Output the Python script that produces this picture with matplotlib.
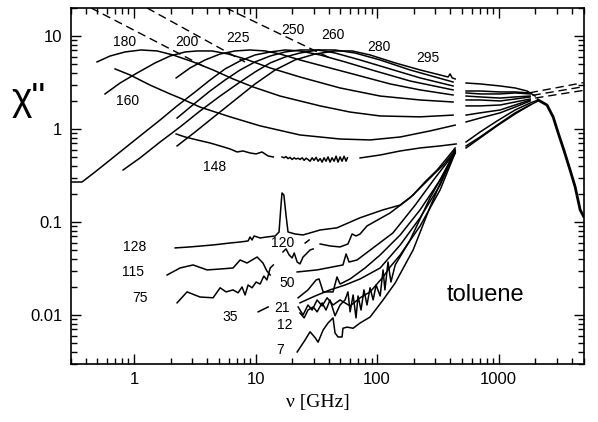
import numpy as np
import matplotlib
matplotlib.use("Agg")
import matplotlib.pyplot as plt
from matplotlib.ticker import LogLocator, NullFormatter

nan = np.nan

# --- alpha-relaxation spectra (nu in GHz, chi'') -------------------------
nu_295 = [2.26, 3.18, 4.64, 6.78, 9.91, 14.5, 21.1, 30.9, 45.1, 62.3, 87.6, 141, 226, 330, 384, 399, 415, 439,
          nan, 540, 704, 1029, 1367, 1717, 1997]
chi_295 = [0.657, 0.928, 1.38, 2.05, 3.05, 4.31, 5.52, 6.40, 6.90, 6.90, 6.25, 5.13, 4.31, 3.81, 3.62, 3.91, 3.54, 3.45,
           nan, 3.12, 3.05, 2.90, 2.76, 2.56, 2.26]

nu_280 = [0.812, 1.12, 1.64, 2.39, 3.49, 5.11, 7.46, 9.91, 13.2, 17.5, 23.2, 32.7, 45.1, 65.9, 106, 187, 422,
          nan, 540, 704, 1029, 1367, 1817]
chi_280 = [0.362, 0.488, 0.725, 1.05, 1.56, 2.26, 3.20, 4.10, 5.13, 5.94, 6.56, 7.07, 7.07, 6.56, 5.52, 4.31, 3.20,
           nan, 2.56, 2.56, 2.50, 2.50, 2.44]

nu_260 = [2.26, 3.18, 4.22, 5.61, 7.46, 9.91, 13.2, 17.5, 23.2, 32.7, 45.1, 72.5, 128, 226, 422,
          nan, 540, 704, 1029, 1367, 1817]
chi_260 = [1.31, 1.90, 2.56, 3.36, 4.31, 5.26, 6.09, 6.73, 7.07, 7.07, 6.56, 5.52, 4.42, 3.54, 2.90,
           nan, 2.44, 2.38, 2.38, 2.44, 2.38]

nu_250 = [0.303, 0.373, 0.478, 0.635, 0.843, 1.12, 1.64, 2.26, 3.18, 4.22, 5.61, 7.46, 9.91, 13.2, 17.5, 23.2,
          34.0, 54.5, 96.3, 187, 422, nan, 540, 704, 1029, 1367, 1817]
chi_250 = [0.269, 0.269, 0.345, 0.464, 0.625, 0.841, 1.25, 1.77, 2.50, 3.36, 4.42, 5.39, 6.25, 6.73, 7.07, 6.90,
           6.25, 5.26, 4.21, 3.28, 2.63, nan, 2.26, 2.21, 2.15, 2.21, 2.26]

nu_225 = [2.22, 2.89, 3.84, 5.11, 6.78, 9.01, 12.0, 15.9, 23.2, 41.0, 72.5, 128, 226, 422,
          nan, 540, 704, 1029, 1367, 1817]
chi_225 = [3.54, 4.53, 5.52, 6.40, 6.90, 7.07, 6.90, 6.40, 5.52, 4.53, 3.72, 3.05, 2.63, 2.32,
           nan, 2.05, 2.05, 2.00, 2.10, 2.21]

nu_200 = [0.577, 0.767, 1.06, 1.49, 1.98, 2.63, 3.30, 4.39, 5.94, 8.20, 13.2, 23.2, 49.6, 106, 226, 422,
          nan, 540, 704, 1029, 1367, 1817]
chi_200 = [2.38, 3.12, 4.00, 5.13, 6.09, 6.73, 6.90, 6.90, 6.40, 5.66, 4.53, 3.62, 2.76, 2.26, 2.05, 1.95,
           nan, 1.77, 1.77, 1.81, 1.95, 2.10]

nu_180 = [0.496, 0.635, 0.843, 1.14, 1.55, 2.09, 3.06, 4.47, 6.53, 9.54, 15.9, 34.0, 60.0, 106, 226, 422,
          nan, 540, 704, 1029, 1367, 1817]
chi_180 = [5.26, 6.09, 6.73, 7.07, 6.90, 6.25, 5.26, 4.31, 3.45, 2.83, 2.26, 1.77, 1.52, 1.38, 1.35, 1.41,
           nan, 1.41, 1.49, 1.60, 1.81, 2.05]

nu_160 = [0.698, 0.927, 1.35, 1.98, 2.39, 3.49, 6.17, 10.9, 23.2, 49.6, 87.6, 155, 273, 439,
          nan, 540, 704, 1029, 1367, 1817]
chi_160 = [4.42, 3.81, 2.97, 2.38, 2.15, 1.72, 1.35, 1.08, 0.862, 0.78, 0.762, 0.82, 0.953, 1.10,
           nan, 1.19, 1.31, 1.49, 1.72, 2.00]

nu_148 = [2.22, 2.63, 3.30, 4.22, 5.11, 6.17, 7.04, 7.89, 9.01, 10.1, 11.3, 12.7, 14.0, nan,
          16.5, 17.2, 17.8, 18.5, 19.2, 20.0, 20.8, 21.5, 22.4, 23.2, 24.2, 25.1, 26.1, 27.0, 28.1, 29.2,
          30.3, 31.5, 32.7, 34.0, 35.3, 36.6, 38.0, 39.5, 41.0, 42.6, 44.3, 46.0, 47.7, 49.6, 51.5, 53.5,
          55.6, 57.0, nan, 72.5, 106, 155, 226, 330, 447, nan, 540, 704, 972, 1367, 1817]
chi_148 = [0.884, 0.82, 0.762, 0.707, 0.657, 0.61, 0.566, 0.58, 0.552, 0.539, 0.566, 0.512, 0.50, nan,
           0.50, 0.49, 0.505, 0.48, 0.495, 0.47, 0.49, 0.475, 0.485, 0.47, 0.49, 0.46, 0.485, 0.47, 0.45, 0.49,
           0.46, 0.495, 0.45, 0.48, 0.44, 0.49, 0.45, 0.50, 0.44, 0.49, 0.45, 0.51, 0.44, 0.50, 0.45, 0.51,
           0.45, 0.49, nan, 0.488, 0.525, 0.58, 0.625, 0.657, 0.69, nan, 0.657, 0.82, 1.10, 1.49, 1.81]

# --- low-temperature spectra ---------------------------------------------
nu_128 = [2.18, 2.89, 4.47, 6.17, 7.46, 8.68, 9.01, 9.36, 9.72, 10.9, 12.4, 14.5, 15.6, 16.2, 16.5, 17.1,
          17.8, 18.5, 21.1, 24.6, 34.0, 46.8, 72.5, 112, 155, 198, 248, 312, 377, 439,
          nan, 540, 704, 972, 1367, 1817, 2114]
chi_128 = [0.0526, 0.0539, 0.0566, 0.0594, 0.0609, 0.0625, 0.0690, 0.0640, 0.0707, 0.0673, 0.0690, 0.0707,
           0.0780, 0.152, 0.205, 0.195, 0.119, 0.078, 0.0743, 0.0725, 0.0820, 0.0865, 0.111, 0.135, 0.152,
           0.195, 0.270, 0.362, 0.488, 0.625, nan, 0.725, 0.928, 1.22, 1.60, 1.90, 2.05]

nu_120 = [16.8, 17.8, 18.9, 20.0, 20.8, 22.0, 23.2, 24.6, 26.1, 28.1, 29.8, nan, 25.6, 27.6, nan,
          34.0, 41.0, 49.6, 57.6, 62.3, 67.1, 72.5, 82.6, 128, 187, 273, 363, 439]
chi_120 = [0.0476, 0.0513, 0.0442, 0.0410, 0.0464, 0.0371, 0.0354, 0.0420, 0.0453, 0.0500, 0.0513, nan,
           0.0594, 0.0640, nan, 0.0580, 0.0552, 0.0539, 0.0580, 0.0743, 0.0707, 0.0743, 0.0906, 0.125, 0.182,
           0.297, 0.430, 0.594]

nu_115 = [1.87, 2.39, 3.06, 3.99, 5.11, 6.53, 7.46, 8.51, 10.3, 11.5, 12.4, 13.2, nan,
          22.0, 32.1, 52.4, 55.6, 58.8, 68.4, 135, 206, 300, 439]
chi_115 = [0.0269, 0.0320, 0.0345, 0.0305, 0.0312, 0.0320, 0.0390, 0.0362, 0.0420, 0.0362, 0.0297, 0.0269, nan,
           0.0290, 0.0305, 0.0345, 0.0453, 0.0371, 0.0390, 0.0762, 0.152, 0.297, 0.566]

nu_75 = [2.26, 2.73, 3.49, 4.47, 5.11, 5.72, 6.53, 7.18, 7.74, 8.20, 8.68, 9.36, 10.1, 10.9, 11.7, 12.4,
         13.2, 14.0]
chi_75 = [0.0135, 0.0177, 0.0156, 0.0153, 0.0196, 0.0177, 0.0186, 0.0173, 0.0200, 0.0164, 0.0210, 0.0196,
          0.0226, 0.0215, 0.0262, 0.0238, 0.0320, 0.0345]

nu_50 = [22.4, 27.0, 31.5, 33.3, 36.0, 43.4, 46.8, 49.6, 60.0, 79.6, 106, 155, 226, 330, 439]
chi_50 = [0.0153, 0.0186, 0.0238, 0.0244, 0.0177, 0.0177, 0.0256, 0.0215, 0.0244, 0.0320, 0.0442, 0.0725,
          0.135, 0.283, 0.58]

nu_35 = [10.5, 12.7, nan, 23.2, 30.9, 41.0, 54.5, 72.5, 106, 155, 226, 330, 439]
chi_35 = [0.0108, 0.0122, nan, 0.0135, 0.0160, 0.0186, 0.0210, 0.0244, 0.0320, 0.0566, 0.111, 0.25, 0.566]

nu_21 = [22.4, 24.6, 27.0, 29.2, 32.1, 35.3, 38.8, 43.4, 49.6, 60.0, 72.5, 87.6, 112, 128, 155, 226, 330, 439]
chi_21 = [0.0122, 0.0100, 0.0128, 0.0113, 0.0145, 0.0125, 0.0153, 0.0128, 0.0145, 0.0125, 0.0153, 0.0177,
          0.0256, 0.0328, 0.0442, 0.0906, 0.221, 0.552]

nu_12 = [23.2, 25.1, 27.0, 29.8, 32.1, 35.3, 38.0, 41.0, 45.1, 49.6, 54.5, 57.6, 60.0, 63.5, 67.1, 69.7, 73.8,
         78.0, 82.6, 87.6, 92.8, 98.2, 106, 112, 116, 123, 130, 141, 187, 273, 439]
chi_12 = [0.0105, 0.0093, 0.0113, 0.0122, 0.0108, 0.0135, 0.0113, 0.0145, 0.0098, 0.0128, 0.0145, 0.0177,
          0.0108, 0.0164, 0.0093, 0.0160, 0.0113, 0.0186, 0.0128, 0.0196, 0.0145, 0.0210, 0.0160, 0.0305,
          0.0186, 0.0371, 0.0226, 0.0345, 0.0640, 0.182, 0.552]

nu_7 = [22.0, 25.6, 28.1, 30.9, 32.7, 36.0, 39.5, 43.4, 45.1, 47.7, 51.5, 52.4, 56.6, 63.5, 72.5, 87.6, 112,
        141, 198, 273, 363, 439, nan, 540, 704, 972, 1367, 1817, 2114]
chi_7 = [0.0040, 0.0054, 0.0066, 0.0057, 0.0051, 0.0069, 0.0082, 0.0093, 0.0064, 0.0058, 0.0058, 0.0072,
         0.0074, 0.0072, 0.0082, 0.0095, 0.0145, 0.0221, 0.050, 0.145, 0.345, 0.594, nan, 0.625, 0.80, 1.08,
         1.45, 1.81, 2.00]

# common microscopic peak / high-frequency tail
tail_nu = [2114, 2500, 2810, 3090, 3450, 3880, 4260, 4690, 5000]
tail_chi = [2.05, 1.81, 1.35, 0.91, 0.59, 0.36, 0.24, 0.135, 0.115]

# dashed power-law extrapolations
dash_nu = [[0.443, 3.84], [1.28, 8.2], [5.72, 41.0], [1800, 5000], [1900, 5000], [2000, 5000]]
dash_chi = [[20, 4.64], [20, 5.25], [20, 5.8], [2.45, 3.15], [2.3, 2.85], [2.15, 2.6]]

curves = [(nu_295, chi_295), (nu_280, chi_280), (nu_260, chi_260), (nu_250, chi_250),
          (nu_225, chi_225), (nu_200, chi_200), (nu_180, chi_180), (nu_160, chi_160),
          (nu_148, chi_148), (nu_128, chi_128), (nu_120, chi_120), (nu_115, chi_115),
          (nu_75, chi_75), (nu_50, chi_50), (nu_35, chi_35), (nu_21, chi_21),
          (nu_12, chi_12), (nu_7, chi_7)]

# temperature labels: (text, nu, chi)
labels = [("180", 0.843, 8.6), ("200", 2.73, 8.6), ("225", 7.18, 9.5), ("250", 20.4, 11.6),
          ("260", 43.4, 10.25), ("280", 104, 7.62), ("295", 263, 5.8), ("160", 0.89, 2.0),
          ("148", 4.64, 0.39), ("128", 1.02, 0.0539), ("115", 0.98, 0.029), ("75", 1.12, 0.0153),
          ("35", 6.17, 0.0095), ("120", 16.8, 0.0594), ("50", 18.2, 0.0221), ("21", 16.5, 0.0118),
          ("12", 17.5, 0.0078), ("7", 15.9, 0.0042)]

plt.rcParams["font.family"] = ["Liberation Sans", "DejaVu Sans"]

fig = plt.figure(figsize=(5.98, 4.22), dpi=100)
ax = fig.add_axes([0.1179, 0.1384, 0.8579, 0.8427])
ax.set_xscale("log")
ax.set_yscale("log")

for nu, chi in curves:
    ax.plot(nu, chi, color="black", lw=1.1)
ax.plot(tail_nu, tail_chi, color="black", lw=2.0)

for nu, chi in zip(dash_nu, dash_chi):
    ax.plot(nu, chi, color="black", lw=1.0, dashes=(6, 3.5))

for text, x, y in labels:
    ax.text(x, y, text, ha="center", va="center", fontsize=10)
ax.text(774, 0.0164, "toluene", ha="center", va="center", fontsize=17)

ax.set_xlim(0.3, 5000)
ax.set_ylim(0.003, 20)
ax.set_xticks([1, 10, 100, 1000])
ax.set_xticklabels(["1", "10", "100", "1000"])
ax.set_yticks([0.01, 0.1, 1, 10])
ax.set_yticklabels(["0.01", "0.1", "1", "10"])
ax.xaxis.set_minor_locator(LogLocator(base=10, subs=np.arange(2, 10)))
ax.yaxis.set_minor_locator(LogLocator(base=10, subs=np.arange(2, 10)))
ax.xaxis.set_minor_formatter(NullFormatter())
ax.yaxis.set_minor_formatter(NullFormatter())
ax.tick_params(which="both", direction="in", top=True, right=True, width=1.0, labelsize=12)
ax.tick_params(which="major", length=7, pad=6)
ax.tick_params(which="minor", length=4)
for s in ax.spines.values():
    s.set_linewidth(1.2)

fig.text(0.048, 0.763, 'χ"', fontsize=28, ha="center", va="center")
fig.text(318 / 598, 1 - 402 / 422, "ν [GHz]", family="Liberation Serif", fontsize=14,
         ha="center", va="center")

fig.savefig("out.png", dpi=100)
